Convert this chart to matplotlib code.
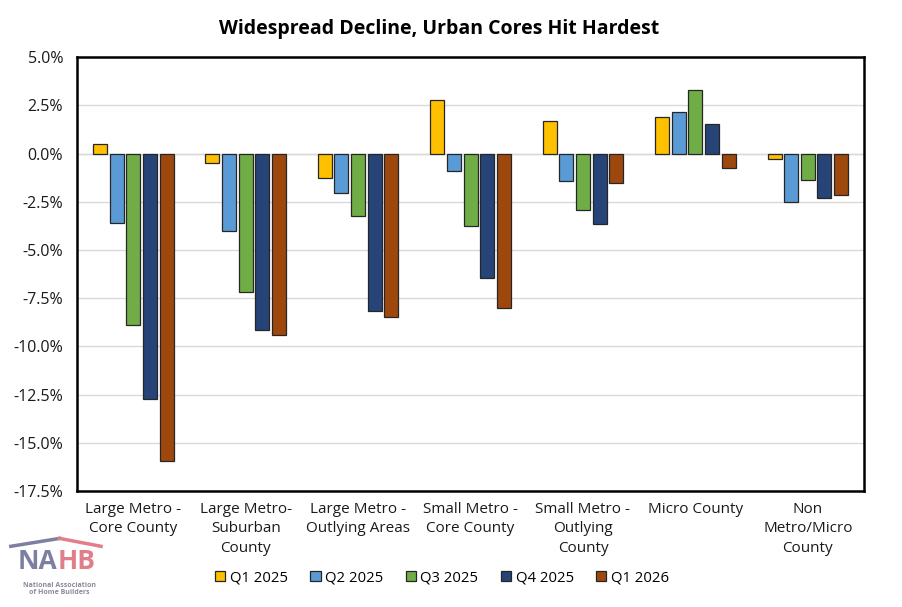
import numpy as np
import matplotlib
matplotlib.use("Agg")
import matplotlib.pyplot as plt
from matplotlib.ticker import FuncFormatter

categories = ["Large Metro -\nCore County", "Large Metro-\nSuburban\nCounty",
              "Large Metro -\nOutlying Areas", "Small Metro -\nCore County",
              "Small Metro -\nOutlying\nCounty", "Micro County",
              "Non\nMetro/Micro\nCounty"]
series_names = ["Q1 2025", "Q2 2025", "Q3 2025", "Q4 2025", "Q1 2026"]
q1_2025 = [0.5, -0.5, -1.25, 2.75, 1.7, 1.9, -0.3]
q2_2025 = [-3.6, -4.0, -2.05, -0.9, -1.4, 2.15, -2.5]
q3_2025 = [-8.9, -7.2, -3.25, -3.75, -2.95, 3.3, -1.35]
q4_2025 = [-12.75, -9.15, -8.15, -6.45, -3.65, 1.55, -2.3]
q1_2026 = [-15.95, -9.4, -8.5, -8.0, -1.55, -0.75, -2.15]
colors = ["#FFC000", "#5B9BD5", "#70AD47", "#264478", "#9E480E"]

plt.rcParams['font.family'] = ['Open Sans', 'DejaVu Sans']

fig = plt.figure(figsize=(9.02, 6.07), dpi=100)
ax = fig.add_axes([0.0854, 0.191, 0.8725, 0.715])

data = [q1_2025, q2_2025, q3_2025, q4_2025, q1_2026]
x = np.arange(len(categories))
slot = 0.148
for i, (vals, c, name) in enumerate(zip(data, colors, series_names)):
    ax.bar(x + (i - 2) * slot, vals, width=slot * 0.84, color=c,
           edgecolor="#262626", linewidth=0.9, label=name, zorder=3)

ax.set_xlim(-0.5, len(categories) - 0.5)
ax.set_ylim(-17.5, 5.0)
ax.set_yticks(np.arange(-17.5, 5.01, 2.5))
ax.yaxis.set_major_formatter(FuncFormatter(lambda v, p: f"{v:.1f}%"))
ax.yaxis.grid(True, color="#D9D9D9", linewidth=1, zorder=0)
ax.axhline(0, color="#D9D9D9", linewidth=1, zorder=1)
ax.set_xticks(x)
ax.set_xticklabels(categories, fontsize=11, linespacing=1.38, color="#1a1a1a")
ax.tick_params(axis="x", length=0, pad=8)
ax.tick_params(axis="y", length=0, labelsize=11.5, pad=10, labelcolor="#1a1a1a")
for s in ax.spines.values():
    s.set_color("black")
    s.set_linewidth(1.8)

fig.text(0.487, 0.953, "Widespread Decline, Urban Cores Hit Hardest",
         ha="center", va="center", fontsize=14, fontweight="bold")

leg = fig.legend(loc="center", bbox_to_anchor=(0.49, 0.048), ncol=5,
                 frameon=False, fontsize=10.7, handlelength=0.7,
                 handleheight=0.7, handletextpad=0.3, columnspacing=1.5)

# NAHB logo (text)
fig.text(0.064, 0.075, "NA", ha="right", va="center", fontsize=19,
         fontweight="bold", color="#7C7FA0")
fig.text(0.064, 0.075, "HB", ha="left", va="center", fontsize=19,
         fontweight="bold", color="#E07F8A")
fig.text(0.066, 0.03, "National Association\nof Home Builders", ha="center",
         va="center", fontsize=5, color="#8A8A9A", linespacing=1.1,
         fontweight="bold")
fig.lines.append(plt.Line2D([0.012, 0.066], [0.1, 0.113],
                            transform=fig.transFigure, color="#7C7FA0",
                            linewidth=2.5))
fig.lines.append(plt.Line2D([0.066, 0.112], [0.113, 0.1],
                            transform=fig.transFigure, color="#E07F8A",
                            linewidth=2.5))

fig.savefig("out.png", dpi=100)
